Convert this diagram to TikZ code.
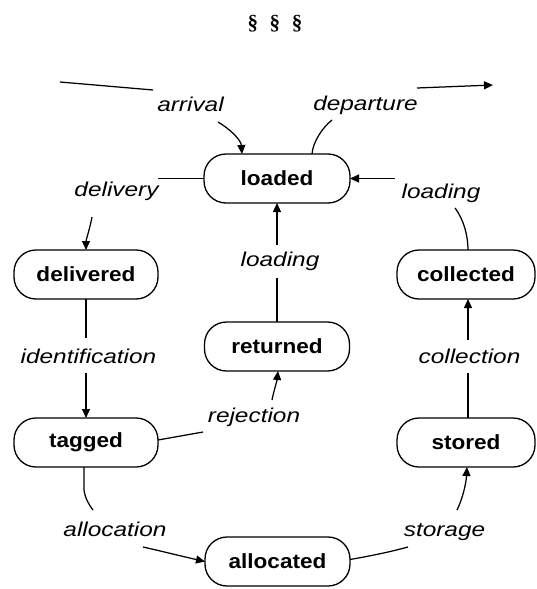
\documentclass[tikz,border=0pt]{standalone}
\usepackage{fontspec}
\setmainfont{Liberation Sans}
\newfontfamily\statefont[FakeStretch=1.1]{Liberation Sans}
\newfontfamily\lblfont[FakeStretch=1.22]{Liberation Sans}
\newfontfamily\titlefont[WordSpace=2.2]{Liberation Serif}
\usetikzlibrary{arrows.meta}
\begin{document}
\begin{tikzpicture}[x=1pt,y=-1pt,
  state/.style={draw,line width=1.3pt,rounded corners=22pt,minimum height=49pt,
    inner sep=0pt,outer sep=0pt,font=\statefont\bfseries\fontsize{20.5}{24}\selectfont},
  lbl/.style={anchor=base,inner sep=0pt,font=\lblfont\itshape\fontsize{20}{24}\selectfont},
  conn/.style={line width=1.25pt},
  arr/.style={conn,-{Triangle[length=9pt,width=8pt]}}]
\useasboundingbox (0,0) rectangle (536,589);

% title
\node[font=\titlefont\bfseries\fontsize{21}{24}\selectfont] (title) at (275,23.5) {§ § §};

% states
\node[state,minimum width=146pt] (loaded)    at (277,178.5) {loaded};
\node[state,minimum width=144pt] (delivered) at (86,274.5)  {delivered};
\node[state,minimum width=138pt] (collected) at (466,274.5) {collected};
\node[state,minimum width=145pt] (returned)  at (277,346.5) {returned};
\node[state,minimum width=144pt] (tagged)    at (86,442.5)  {tagged};
\node[state,minimum width=138pt] (stored)    at (466,442.5) {stored};
\node[state,minimum width=145pt] (allocated) at (277.5,561.5) {allocated};

% transition labels
\node[lbl] (arrival)        at (190.5,111) {arrival};
\node[lbl] (departure)      at (365.5,110) {departure};
\node[lbl] (delivery)       at (116.5,196) {delivery};
\node[lbl] (loadingR)       at (441,198)   {loading};
\node[lbl] (loadingC)       at (280,266)   {loading};
\node[lbl] (identification) at (88.5,363)  {identification};
\node[lbl] (collection)     at (469.5,363) {collection};
\node[lbl] (rejection)      at (254,422)   {rejection};
\node[lbl] (allocation)     at (115,536)   {allocation};
\node[lbl] (storage)        at (444.5,536) {storage};

% free ends and waypoints beside the labels
\coordinate (src) at (60,82);
\coordinate (snk) at (493,85);
\coordinate (a1) at (153,90);   \coordinate (a2) at (218,122);
\coordinate (d1) at (332,120);  \coordinate (d2) at (417,88);
\coordinate (v1) at (158,178.5);\coordinate (v2) at (92,217);
\coordinate (r1) at (455,208);  \coordinate (r2) at (395,178.5);
\coordinate (c1) at (277,278);  \coordinate (c2) at (277,245);
\coordinate (i1) at (86,338);   \coordinate (i2) at (86,373);
\coordinate (j1) at (203,432);  \coordinate (j2) at (272,400);
\coordinate (l1) at (93,510);   \coordinate (l2) at (143,547);
\coordinate (s1) at (408,547);  \coordinate (s2) at (457,510);
\coordinate (k1) at (468,373);  \coordinate (k2) at (468,340);

% arrival
\draw[conn] (src) -- (a1);
\draw[arr] (a2) .. controls (230,129) and (241,140) .. ([xshift=-35pt]loaded.north);
% departure
\draw[conn] ([xshift=35pt]loaded.north) .. controls (313,142) and (322,128) .. (d1);
\draw[arr] (d2) -- (snk);
% delivery
\draw[conn] (loaded.west) -- (v1);
\draw[arr] (v2) .. controls (90,228) and (86,240) .. (delivered.north);
% loading (right)
\draw[conn] ([xshift=2pt]collected.north) .. controls (468,236) and (464,220) .. (r1);
\draw[arr] (r2) -- (loaded.east);
% loading (centre)
\draw[conn] (returned.north) -- (c1);
\draw[arr] (c2) -- (loaded.south);
% identification
\draw[conn] (delivered.south) -- (i1);
\draw[arr] (i2) -- (tagged.north);
% rejection
\draw[conn] ([yshift=2.5pt]tagged.east) -- (j1);
\draw[arr] (j2) .. controls (274,390) and (277,381) .. ([xshift=1pt]returned.south);
% allocation
\draw[conn] ([xshift=-2pt]tagged.south) -- ++(0,23) .. controls (85,498) and (89,505) .. (l1);
\draw[arr] (l2) .. controls (165,552) and (185,557) .. (allocated.west);
% storage
\draw[conn] ([yshift=2pt]allocated.east) .. controls (370,556) and (390,552) .. (s1);
\draw[arr] (s2) .. controls (462,500) and (466,485) .. ([xshift=1pt]stored.south);
% collection
\draw[conn] ([xshift=2pt]stored.north) -- (k1);
\draw[arr] (k2) -- ([xshift=2pt]collected.south);
\end{tikzpicture}
\end{document}
